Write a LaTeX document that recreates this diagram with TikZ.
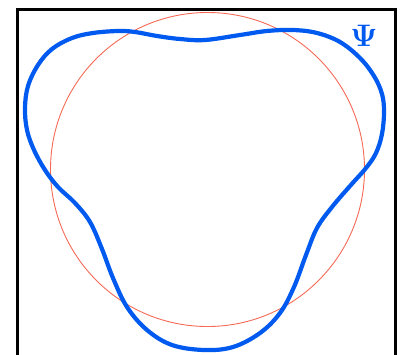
\documentclass[tikz,border=0pt]{standalone}
\usepackage{amsmath,amssymb}
\usepackage{bm}
\usepackage{tikz}
\usetikzlibrary{calc}
\usepackage{xcolor}

\definecolor{psiblue}{RGB}{0,90,240}
\definecolor{circred}{RGB}{245,105,85}

\begin{document}
\begin{tikzpicture}[x=1pt,y=-1pt]
    \useasboundingbox (0,0) rectangle (402,354);
    \clip (0,0) rectangle (402,354);

    % Frame (open below)
    \draw[black,line width=3pt] (17.5,360) -- (17.5,9.5) -- (395.5,9.5) -- (395.5,360);

    % Unperturbed circle
    \draw[circred,line width=0.9pt] (207.5,169.5) circle (157);

    % Deformed wave function
    \draw[psiblue,line width=4.2pt,line join=round]
        plot[smooth cycle,tension=0.6] coordinates {
        (205,40) (240,35) (267,31) (293,30) (317,33) (340,42) (360,58)
        (374,76) (382,94) (384,112) (382,134) (376,153) (366,168)
        (350,186) (332,207) (317,228) (306,255) (294,287) (280,313)
        (260,333) (233,347) (204,350) (172,345) (147,330) (127,307)
        (113,278) (102,249) (90,222) (75,203) (58,187) (45,170)
        (34,150) (27,130) (25,108) (28,86) (38,65) (52,49) (72,38)
        (93,33) (118,31) (135,32) (157,36) (180,39)};

    % Label
    \node[psiblue, font=\Huge, scale=1.25, inner sep=0pt] (psi) at (364,36) {$\bm{\Psi}$};
\end{tikzpicture}
\end{document}
